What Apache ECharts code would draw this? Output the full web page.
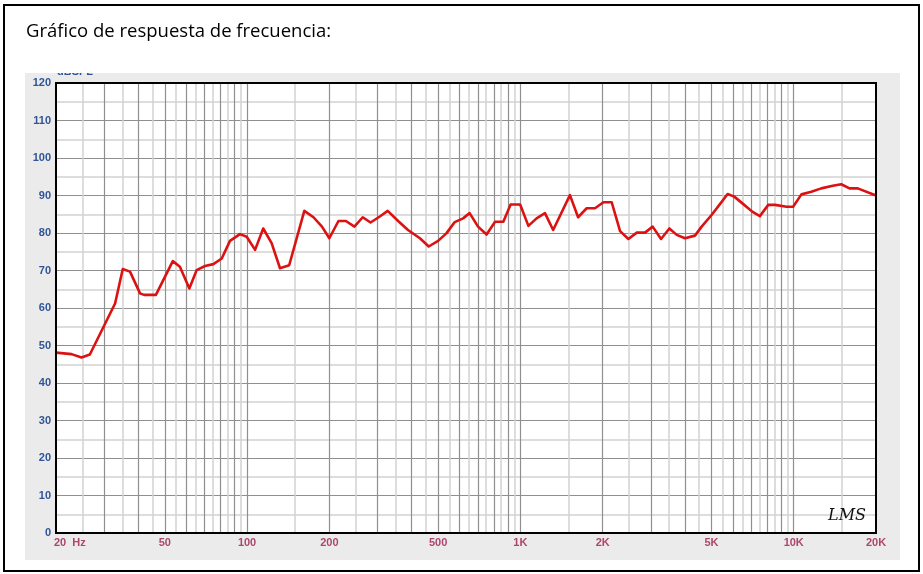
<!DOCTYPE html>
<html>
<head>
<meta charset="utf-8">
<script src="https://cdn.jsdelivr.net/npm/echarts@6/dist/echarts.min.js"></script>
<style>html,body{margin:0;padding:0;background:#fff}#c{width:923px;height:574px}</style>
</head>
<body>
<div id="c"></div>
<script>
// Frequency response data (Hz, dB SPL)
const freqHz = [20, 22.8, 24.8, 26.6, 32.9, 35.1, 37.3, 40.6, 42, 46.4, 53.5, 56.8, 61.5, 65.4, 70.2, 75.3, 80.8, 86.6, 94.2, 99.7,
  107, 114.6, 123, 132, 142.6, 162, 175, 188, 200, 216, 230, 247, 265, 283, 306, 327, 357, 388, 429, 462, 500, 536, 575, 617, 652, 700,
  752, 808, 866, 921, 998, 1070, 1146, 1230, 1318, 1518, 1626, 1748, 1875, 2013, 2158, 2316, 2484, 2666, 2858, 3048, 3270, 3508, 3733,
  4000, 4352, 4604, 5005, 5372, 5730, 6060, 6540, 7050, 7520, 8070, 8540, 9420, 9950, 10670, 11600, 12610, 13900, 14920, 16000, 17150, 20000];
const splDb = [48.1, 47.7, 46.8, 47.6, 61.2, 70.4, 69.7, 63.9, 63.5, 63.5, 72.5, 71.0, 65.2, 70.1, 71.2, 71.7, 73.2, 77.9, 79.7, 79.0,
  75.5, 81.2, 77.3, 70.6, 71.4, 85.9, 84.2, 81.7, 78.6, 83.2, 83.2, 81.7, 84.2, 82.8, 84.4, 85.9, 83.2, 80.8, 78.6, 76.4, 77.9, 79.9, 82.9, 83.9, 85.3, 81.7,
  79.6, 83.0, 83.0, 87.6, 87.6, 81.9, 83.9, 85.3, 80.8, 90.1, 84.2, 86.6, 86.6, 88.2, 88.2, 80.5, 78.4, 80.1, 80.1, 81.7, 78.4, 81.2, 79.5,
  78.6, 79.3, 81.7, 84.8, 87.7, 90.4, 89.7, 87.7, 85.7, 84.5, 87.5, 87.5, 87.0, 87.0, 90.3, 91.0, 91.9, 92.6, 93.0, 91.9, 91.9, 90.0];

// Axis tick labels
const xTickValues = [20, 50, 100, 200, 500, 1000, 2000, 5000, 10000, 20000];
const xTickLabels = ['20  Hz', '50', '100', '200', '500', '1K', '2K', '5K', '10K', '20K'];

// Vertical grid lines
const majorGridHz = [30, 40, 50, 60, 70, 80, 90, 100, 200, 300, 400, 500, 600, 700, 800, 900, 1000,
  2000, 3000, 4000, 5000, 6000, 7000, 8000, 9000, 10000];
const minorGridHz = [25, 35, 45, 55, 65, 75, 85, 95, 150, 250, 350, 450, 550, 650, 750, 850, 950,
  1500, 2500, 3500, 4500, 5500, 6500, 7500, 8500, 9500, 15000];

const DARK = '#8f8f8f', LIGHT = '#d2d2d2';
const X_COLOR = '#9c1c4c', Y_COLOR = '#2f5597';

const gridMarks = []
  .concat(minorGridHz.map(v => ({ xAxis: v, lineStyle: { color: LIGHT, width: 1.5, type: 'solid' } })))
  .concat(majorGridHz.map(v => ({ xAxis: v, lineStyle: { color: DARK, width: 1.2, type: 'solid' } })));

const chart = echarts.init(document.getElementById('c'), null, { renderer: 'canvas' });
chart.setOption({
  animation: false,
  backgroundColor: '#fff',
  grid: { left: 56, top: 83, width: 820, height: 450, show: true, backgroundColor: '#fff', borderWidth: 0 },
  xAxis: {
    type: 'log', logBase: 10, min: 20, max: 20000,
    axisLine: { show: false }, axisTick: { show: false }, axisLabel: { show: false }, splitLine: { show: false }
  },
  yAxis: {
    type: 'value', min: 0, max: 120, interval: 10,
    axisLine: { show: false }, axisTick: { show: false },
    axisLabel: { color: Y_COLOR, fontFamily: 'Liberation Sans', fontWeight: 'bold', fontSize: 11, margin: 5 },
    splitLine: { show: true, lineStyle: { color: DARK, width: 1.2 } },
    minorTick: { show: false, splitNumber: 2 },
    minorSplitLine: { show: true, lineStyle: { color: LIGHT, width: 1.5 } }
  },
  series: [
    {
      type: 'line', name: 'SPL', z: 3,
      data: freqHz.map((f, i) => [f, splDb[i]]),
      showSymbol: false, symbol: 'none',
      lineStyle: { color: '#dc1212', width: 2.6, join: 'round' },
      markLine: {
        z: 1, silent: true, symbol: ['none', 'none'], label: { show: false },
        emphasis: { disabled: true }, animation: false,
        data: gridMarks
      }
    },
    {
      type: 'scatter', name: 'ticks', z: 4, silent: true,
      symbolSize: 0,
      data: xTickValues.map((v, i) => i === 0
        ? { value: [v, 0], label: { align: 'left', offset: [-2, 0] } }
        : { value: [v, 0] }),
      label: {
        show: true, position: 'bottom', distance: 4,
        formatter: p => xTickLabels[p.dataIndex],
        color: X_COLOR, fontFamily: 'Liberation Sans', fontWeight: 'bold', fontSize: 11
      }
    }
  ],
  graphic: [
    { type: 'rect', z: -2, silent: true, shape: { x: 4, y: 5, width: 915, height: 566 }, style: { fill: '#fff', stroke: '#000', lineWidth: 2 } },
    { type: 'rect', z: -1, silent: true, shape: { x: 25, y: 73, width: 875, height: 487 }, style: { fill: '#ebebeb' } },
    { type: 'text', z: 40, silent: true, x: 57, y: 77, style: { text: 'dBSPL', fill: Y_COLOR, font: 'bold 11px "Liberation Sans"', verticalAlign: 'bottom' } },
    { type: 'rect', z: 50, silent: true, shape: { x: 50, y: 55, width: 60, height: 18 }, style: { fill: '#fff' } },
    { type: 'rect', z: 100, silent: true, shape: { x: 56, y: 83, width: 820, height: 450 }, style: { fill: 'transparent', stroke: '#000', lineWidth: 2 } },
    { type: 'text', z: 100, silent: true, x: 26, y: 32, style: { text: 'Gráfico de respuesta de frecuencia:', fill: '#000', font: '18.5px "Open Sans"', verticalAlign: 'middle' } },
    { type: 'text', z: 100, silent: true, x: 828, y: 516, style: { text: 'LMS', fill: '#111', font: 'italic 16px "DejaVu Serif"', verticalAlign: 'middle' } }
  ]
});
</script>
</body>
</html>
